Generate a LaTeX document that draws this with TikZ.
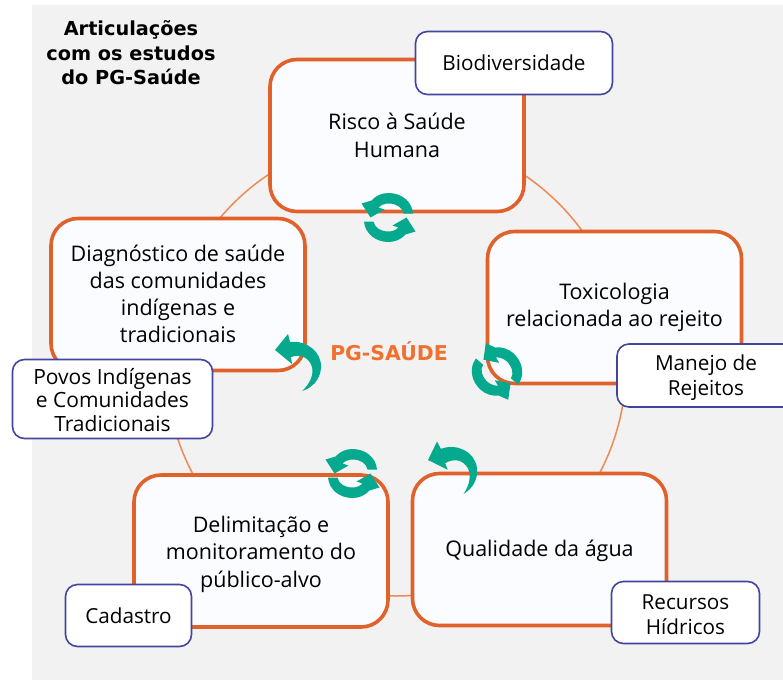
\documentclass[tikz,border=0pt]{standalone}
\usepackage{fontspec}
\setmainfont{Open Sans}
\newfontfamily\verd{DejaVu Sans}
\definecolor{bggray}{HTML}{F2F2F2}
\definecolor{boxfill}{HTML}{FAFCFF}
\definecolor{orangeline}{HTML}{E0622A}
\definecolor{ringline}{HTML}{EE8A55}
\definecolor{navyline}{HTML}{4444A0}
\definecolor{tealicon}{HTML}{05A98D}
\definecolor{pgorange}{HTML}{F0702F}
\newcommand\lowr[2]{\raisebox{-#1}[\height][\depth]{#2}}
\tikzset{
  x=1pt,y=-1pt,
  bigbox/.style={draw=orangeline,line width=3.6pt,fill=boxfill,rounded corners=27pt,minimum width=254pt,minimum height=152pt,align=center,font=\fontsize{21.5}{27.5}\selectfont,text=black,inner sep=0pt},
  smallbox/.style={draw=navyline,line width=1.6pt,fill=white,rounded corners=12pt,align=center,font=\fontsize{20.7}{25}\selectfont,text=black,inner sep=0pt},
  ringstyle/.style={circle,draw=ringline,line width=1.5pt,minimum size=460pt,inner sep=0pt},
  pics/cyc/.style={code={
    \foreach \r in {0,180}{
      \fill[tealicon,rotate=\r] (24.5,-4) .. controls (23.5,-16) and (13,-24.5) .. (0,-24.5) .. controls (-6.5,-24.5) and (-12.5,-22) .. (-17,-17)
        -- (-27,-14) -- (-18,0) -- (-4,-8) -- (-10,-10) .. controls (-7,-13) and (-3,-14) .. (0,-14) .. controls (8,-14) and (14,-10) .. (15,-4) -- cycle;
    }
  }},
  pics/swoop/.style={code={
    \fill[tealicon] (0,0) -- (13,-16) -- (15,-8) .. controls (32,-10) and (47,2) .. (46,18) .. controls (45,30) and (37,38) .. (27,41)
      .. controls (35,34) and (39,24) .. (37,17) .. controls (34,7) and (25,4) .. (16,7) -- (17,14) -- cycle;
  }}
}
\begin{document}
\begin{tikzpicture}
\useasboundingbox (0,0) rectangle (783,680);
\fill[bggray] (32,5) rectangle (783,680);
\node[ringstyle] (ring) at (396,366) {};
\node[bigbox] (risco) at (397,135.5) {Risco à Saúde\\Humana};
\node[bigbox] (toxi) at (614.5,307.5) {Toxicologia\\relacionada ao rejeito};
\node[bigbox] (agua) at (539.5,549.5) {\lowr{1.5pt}{Qualidade da água}};
\node[bigbox] (delim) at (261,551) {\lowr{3pt}{Delimitação e}\\\lowr{3pt}{monitoramento do}\\\lowr{3pt}{público-alvo}};
\node[bigbox,font=\fontsize{21.5}{27}\selectfont] (diag) at (178,294.5) {\lowr{-1pt}{Diagnóstico de saúde}\\\lowr{-1pt}{das comunidades}\\\lowr{-1pt}{indígenas e}\\\lowr{-1pt}{tradicionais}};
\node[smallbox,minimum width=197pt,minimum height=63pt] (bio) at (514,63) {Biodiversidade};
\node[smallbox,minimum width=178pt,minimum height=63pt] (manejo) at (706,375.5) {\lowr{2pt}{Manejo de}\\\lowr{2pt}{Rejeitos}};
\node[smallbox,minimum width=148pt,minimum height=62pt] (rec) at (685.5,612.5) {\lowr{2.5pt}{Recursos}\\\lowr{2.5pt}{Hídricos}};
\node[smallbox,minimum width=126pt,minimum height=62pt] (cad) at (128.5,615.5) {Cadastro};
\node[smallbox,font=\fontsize{21}{23.5}\selectfont,minimum width=200pt,minimum height=79pt] (povos) at (112.5,399) {\lowr{1pt}{Povos Indígenas}\\\lowr{1pt}{e Comunidades}\\\lowr{1pt}{Tradicionais}};
\node[font={\verd\bfseries\fontsize{19.3}{24.5}\selectfont},align=center,inner sep=0pt] (titulo) at (131,53) {Articulações\\com os estudos\\do PG-Saúde};
\node[font={\verd\bfseries\fontsize{20.4}{24}\selectfont},text=pgorange,inner sep=0pt] (pg) at (389,351.5) {PG-SAÚDE};
\pic at (388.5,217.5) {cyc};
\pic[rotate=-41] at (497,371.5) {cyc};
\pic at (352.5,473.5) {cyc};
\pic at (275,350) {swoop};
\pic[rotate=13] at (428,460) {swoop};
\end{tikzpicture}
\end{document}
